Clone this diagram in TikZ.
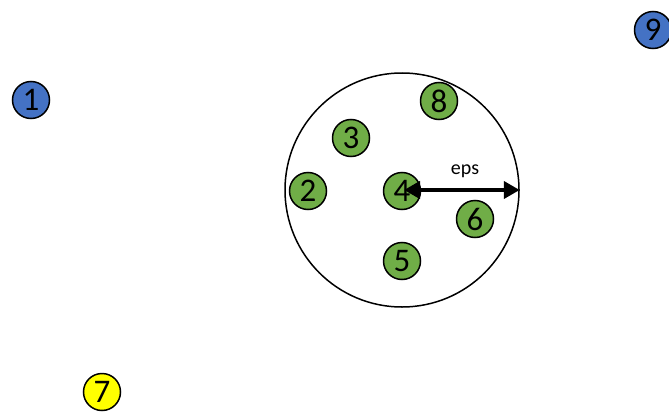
\documentclass[tikz,border=0pt]{standalone}
\usepackage{fontspec}
\setmainfont{Carlito}
\usetikzlibrary{arrows.meta}
\definecolor{ptgreen}{HTML}{70AD47}
\definecolor{ptblue}{HTML}{4472C4}
\definecolor{ptyellow}{HTML}{FFFF00}
\tikzset{
  pt/.style={circle, draw=black, line width=1.5pt, minimum size=37pt, inner sep=0pt, font=\fontsize{33}{33}\selectfont},
  core/.style={pt, fill=ptgreen},
  noise/.style={pt, fill=ptblue},
  border/.style={pt, fill=ptyellow},
  epsarrow/.style={line width=4pt, {Stealth[length=16pt,width=17pt,inset=0pt]}-{Stealth[length=16pt,width=17pt,inset=0pt]}}
}
\begin{document}
\begin{tikzpicture}[x=1pt,y=-1pt]
\useasboundingbox (0,0) rectangle (669,412);
\node[circle, draw=black, line width=1.5pt, minimum size=234pt, inner sep=0pt] (nbhd) at (402,190) {};
\node[noise] (n1) at (31,100) {1};
\node[noise] (n9) at (653,30) {9};
\node[border] (n7) at (102,392) {7};
\node[core] (n8) at (439,101) {8};
\node[core] (n3) at (351,138) {3};
\node[core] (n2) at (308,191) {2};
\node[core] (n4) at (402,191) {4};
\node[core] (n6) at (475,219) {6};
\node[core] (n5) at (402,261) {5};
\coordinate (ctr) at (404,190);
\draw[epsarrow] (ctr) -- (nbhd.east);
\node[font=\fontsize{20}{20}\selectfont] (eps) at (465,171) {eps};
\end{tikzpicture}
\end{document}
